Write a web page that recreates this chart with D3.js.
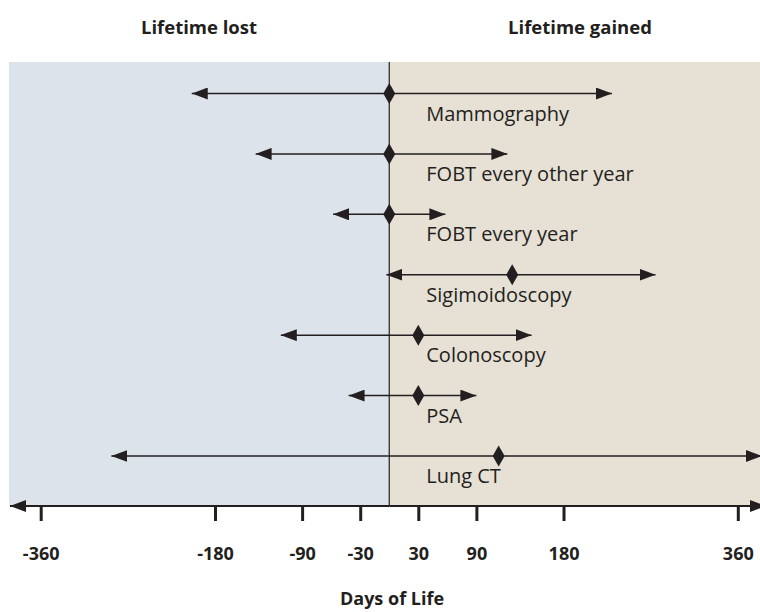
<!DOCTYPE html>
<html>
<head>
    <meta charset="utf-8">
    <title>Days of Life</title>
    <script src="https://d3js.org/d3.v7.min.js"></script>
    <style>
        html, body {
            margin: 0;
            padding: 0;
            background: #fff;
            overflow: hidden;
        }
        svg text {
            font-family: "Open Sans", sans-serif;
            fill: #231f20;
        }
        .title, .tick-label, .axis-title {
            font-weight: 700;
        }
    </style>
</head>
<body>
    <svg id="chart" width="760" height="612"></svg>
    <script>
        // Datos
        const programs = ["Mammography", "FOBT every other year", "FOBT every year",
            "Sigimoidoscopy", "Colonoscopy", "PSA", "Lung CT"];
        const lostDays = [-204, -138, -58, -3, -112, -42, -287];
        const netDays = [0, 0, 0, 127, 30, 30, 113];
        const gainedDays = [230, 122, 58, 275, 147, 90, 385];
        const tickValues = [-360, -180, -90, -30, 30, 90, 180, 360];

        const ink = "#231f20";
        const svg = d3.select("#chart");

        // Escalas
        const x = d3.scaleLinear().domain([-360, 360]).range([40.7, 737.8]);
        const y = d3.scalePoint().domain(programs).range([93.5, 456]);

        const panelTop = 62, panelBottom = 506, panelLeft = 9, panelRight = 760;
        const x0 = x(0);

        // Fondos
        svg.append("rect")
            .attr("x", panelLeft).attr("y", panelTop)
            .attr("width", x0 - panelLeft).attr("height", panelBottom - panelTop)
            .attr("fill", "#dde3ea");
        svg.append("rect")
            .attr("x", x0).attr("y", panelTop)
            .attr("width", panelRight - x0).attr("height", panelBottom - panelTop)
            .attr("fill", "#e6e0d5");
        svg.append("line")
            .attr("x1", x0).attr("x2", x0)
            .attr("y1", panelTop).attr("y2", panelBottom)
            .attr("stroke", ink).attr("stroke-width", 1.2);

        // Marcadores de flecha
        const defs = svg.append("defs");
        defs.append("marker")
            .attr("id", "arrow")
            .attr("markerUnits", "userSpaceOnUse")
            .attr("viewBox", "0 0 16 12")
            .attr("refX", 16).attr("refY", 6)
            .attr("markerWidth", 16).attr("markerHeight", 12)
            .attr("orient", "auto-start-reverse")
            .append("path")
            .attr("d", "M0,0L16,6L0,12Z")
            .attr("fill", ink);

        // Títulos
        svg.append("text").attr("class", "title")
            .attr("x", 199).attr("y", 34)
            .attr("text-anchor", "middle").attr("font-size", 18.5)
            .text("Lifetime lost");
        svg.append("text").attr("class", "title")
            .attr("x", 580).attr("y", 34)
            .attr("text-anchor", "middle").attr("font-size", 18.5)
            .text("Lifetime gained");

        // Rangos
        const rows = svg.append("g").selectAll("g")
            .data(programs)
            .enter().append("g")
            .attr("transform", d => `translate(0,${y(d)})`);

        rows.append("line")
            .attr("x1", (d, i) => x(netDays[i]))
            .attr("x2", (d, i) => x(lostDays[i]))
            .attr("stroke", ink).attr("stroke-width", 1.5)
            .attr("marker-end", "url(#arrow)");
        rows.append("line")
            .attr("x1", (d, i) => x(netDays[i]))
            .attr("x2", (d, i) => x(gainedDays[i]))
            .attr("stroke", ink).attr("stroke-width", 1.5)
            .attr("marker-end", "url(#arrow)");

        rows.append("path")
            .attr("transform", (d, i) => `translate(${x(netDays[i])},0)`)
            .attr("d", "M0,-10.5L6,0L0,10.5L-6,0Z")
            .attr("fill", ink);

        rows.append("text")
            .attr("x", x0 + 37)
            .attr("y", 27)
            .attr("font-size", 20)
            .text(d => d);

        // Eje
        const axisY = panelBottom;
        svg.append("line")
            .attr("x1", x0).attr("x2", panelLeft + 1)
            .attr("y1", axisY).attr("y2", axisY)
            .attr("stroke", ink).attr("stroke-width", 1.8)
            .attr("marker-end", "url(#arrow)");
        svg.append("line")
            .attr("x1", x0).attr("x2", 766)
            .attr("y1", axisY).attr("y2", axisY)
            .attr("stroke", ink).attr("stroke-width", 1.8)
            .attr("marker-end", "url(#arrow)");

        const axis = svg.append("g")
            .attr("transform", `translate(0,${axisY})`)
            .call(d3.axisBottom(x).tickValues(tickValues).tickSize(15).tickPadding(0)
                .tickFormat(d => `${d}`));
        axis.select(".domain").remove();
        axis.selectAll(".tick line")
            .attr("stroke", ink).attr("stroke-width", 3);
        axis.selectAll(".tick text")
            .attr("class", "tick-label")
            .attr("y", 54).attr("dy", 0)
            .attr("font-size", 18)
            .attr("font-family", null)
            .style("fill", ink);

        svg.append("text").attr("class", "axis-title")
            .attr("x", 392).attr("y", 605)
            .attr("text-anchor", "middle").attr("font-size", 18)
            .text("Days of Life");
    </script>
</body>
</html>
